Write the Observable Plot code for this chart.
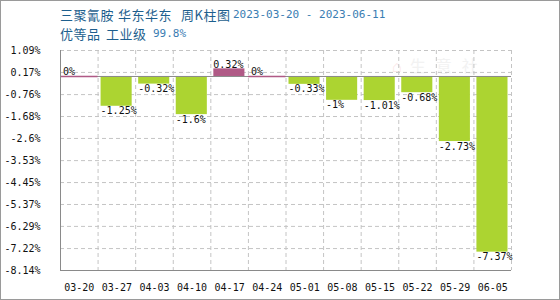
<!DOCTYPE html>
<html>
<head>
<meta charset="utf-8">
<script src="https://cdn.jsdelivr.net/npm/d3@7"></script>
<script src="https://cdn.jsdelivr.net/npm/@observablehq/plot@0.6"></script>
<style>
  html, body { margin: 0; padding: 0; background: #fff; }
  #wrap { position: relative; width: 560px; height: 300px; overflow: hidden; background: #fff; }
  #frame { position: absolute; left: 0; top: 0; width: 560px; height: 300px; box-sizing: border-box; border: 1px solid #9a9a9a; pointer-events: none; }
  .t { position: absolute; white-space: pre; line-height: 14px; }
  .cjk { font-family: "Noto Sans CJK SC", sans-serif; font-size: 13px; letter-spacing: 0.5px; color: #1d5f8e; }
  .mono { font-family: "DejaVu Sans Mono", monospace; font-size: 11px; color: #3a7db2; }
  #wm { position: absolute; left: 392px; top: 53px; font-family: "Noto Sans CJK SC", sans-serif; font-size: 16px; color: #f2f2f2; letter-spacing: 10px; }
  #wm span.h { color: #fbe6e6; letter-spacing: 0; margin-right: 8px; }
  svg { position: absolute; left: 0; top: 0; }
</style>
</head>
<body>
<div id="wrap">
  <div id="wm"><span class="h">⌂</span>生意社</div>
  <div class="t cjk" style="left:60px; top:8px;">三聚氰胺</div>
  <div class="t cjk" style="left:118px; top:8px;">华东华东</div>
  <div class="t cjk" style="left:181px; top:8px;">周K柱图</div>
  <div class="t mono" style="left:233px; top:8px;">2023-03-20 - 2023-06-11</div>
  <div class="t cjk" style="left:60px; top:27px;">优等品</div>
  <div class="t cjk" style="left:106px; top:27px;">工业级</div>
  <div class="t mono" style="left:153px; top:27px;">99.8%</div>
  <div id="chart"></div>
  <div id="frame"></div>
</div>
<script>
const categories = ["03-20","03-27","04-03","04-10","04-17","04-24","05-01","05-08","05-15","05-22","05-29","06-05"];
const values = [0, -1.25, -0.32, -1.6, 0.32, 0, -0.33, -1, -1.01, -0.68, -2.73, -7.37];
const yTicks = [1.09, 0.17, -0.76, -1.68, -2.6, -3.53, -4.45, -5.37, -6.29, -7.22, -8.14];
const yTickLabels = ["1.09%","0.17%","-0.76%","-1.68%","-2.6%","-3.53%","-4.45%","-5.37%","-6.29%","-7.22%","-8.14%"];

const UP = "#b05a86", DOWN = "#acd431";
const data = categories.map((c, i) => ({i, c, v: values[i], label: values[i] + "%"}));
const mono = "DejaVu Sans Mono, monospace";
const yMin = yTicks[yTicks.length - 1], yMax = yTicks[0];

const chart = Plot.plot({
  width: 560,
  height: 300,
  marginTop: 50,
  marginBottom: 30,
  marginLeft: 60,
  marginRight: 49,
  style: {fontFamily: mono, fontSize: "10px", color: "#111", background: "transparent"},
  x: {type: "linear", domain: [0, categories.length], label: null},
  y: {domain: [yMin, yMax], label: null},
  marks: [
    Plot.ruleY(yTicks.slice(0, -1), {stroke: "#c4c4c4", strokeDasharray: "4,3"}),
    Plot.ruleX(d3.range(1, categories.length + 1), {stroke: "#c4c4c4", strokeDasharray: "4,3"}),
    Plot.rectY(data.filter(d => d.v !== 0), {
      x1: d => d.i, x2: d => d.i + 1, y1: 0, y2: "v",
      fill: d => d.v > 0 ? UP : DOWN, insetLeft: 3, insetRight: 3.5
    }),
    Plot.ruleY([0], {stroke: "#8a8a8a"}),
    Plot.ruleY(data.filter(d => d.v === 0), {x1: d => d.i, x2: d => d.i + 1, y: 0, stroke: UP, strokeWidth: 1.5}),
    Plot.ruleX([0], {stroke: "#8a8a8a"}),
    Plot.ruleY([yMin], {stroke: "#8a8a8a"}),
    Plot.text(data.filter(d => d.v >= 0), {
      x: d => d.i, y: "v", text: "label", textAnchor: "start", lineAnchor: "bottom",
      dx: 2.5, dy: -1, fill: "#111", fontFamily: mono, fontSize: 10
    }),
    Plot.text(data.filter(d => d.v < 0), {
      x: d => d.i, y: "v", text: "label", textAnchor: "start", lineAnchor: "top",
      dx: 2.5, dy: 1, fill: "#111", fontFamily: mono, fontSize: 10
    }),
    Plot.axisY({ticks: yTicks, tickFormat: (d, k) => yTickLabels[k], tickSize: 0, tickPadding: 20, label: null, fontFamily: mono, fontSize: 10, fill: "#111"}),
    Plot.axisX({ticks: categories.map((c, i) => i + 0.5), tickFormat: d => categories[Math.floor(d)], tickSize: 0, tickPadding: 13, label: null, fontFamily: mono, fontSize: 10, fill: "#111"})
  ]
});
document.getElementById("chart").appendChild(chart);
</script>
</body>
</html>
